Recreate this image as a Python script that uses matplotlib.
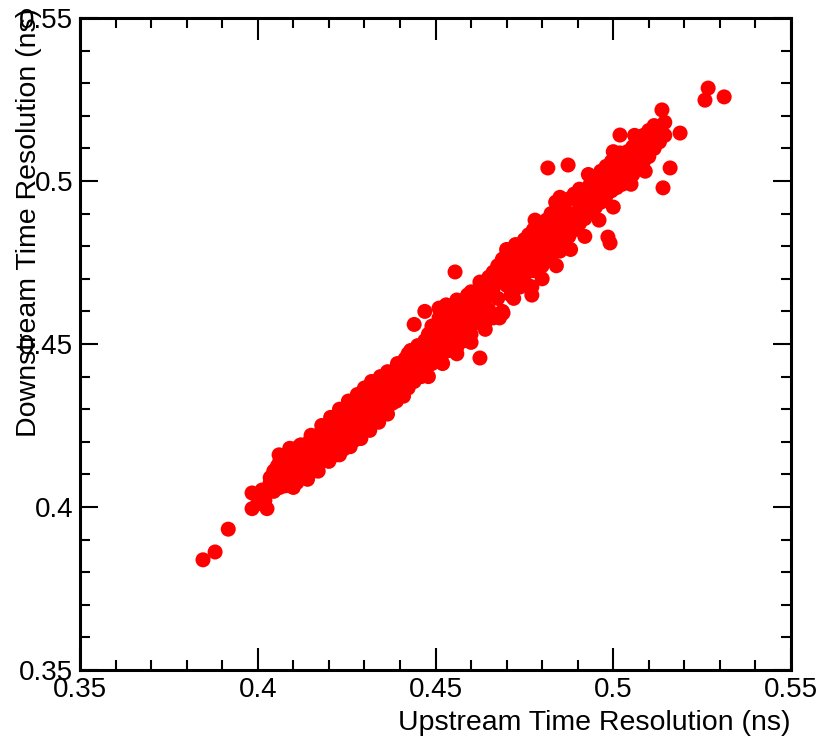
import matplotlib
matplotlib.use('Agg')
import matplotlib.pyplot as plt
from matplotlib.ticker import MultipleLocator

plt.rcParams['font.family'] = ['Liberation Sans', 'DejaVu Sans']

# upstream resolution -> downstream resolutions (ns)
core = {
    0.4035: [0.4090, 0.4060, 0.4075], 0.4045: [0.4110, 0.4048, 0.4085],
    0.4055: [0.4125, 0.4070, 0.4098], 0.4062: [0.4140, 0.4060, 0.4110],
    0.4070: [0.4082, 0.4118, 0.4150], 0.4078: [0.4065, 0.4100, 0.4135],
    0.4085: [0.4162, 0.4090, 0.4120], 0.4092: [0.4078, 0.4145, 0.4108],
    0.4100: [0.4170, 0.4125, 0.4095, 0.4060], 0.4108: [0.4140, 0.4112, 0.4180],
    0.4115: [0.4085, 0.4155, 0.4130], 0.4122: [0.4190, 0.4105, 0.4145],
    0.4130: [0.4120, 0.4165, 0.4095], 0.4138: [0.4178, 0.4140, 0.4110],
    0.4145: [0.4200, 0.4155, 0.4125], 0.4152: [0.4135, 0.4185, 0.4108],
    0.4160: [0.4168, 0.4210, 0.4145], 0.4168: [0.4130, 0.4190, 0.4160],
    0.4175: [0.4225, 0.4172, 0.4148], 0.4182: [0.4140, 0.4200, 0.4185],
    0.4190: [0.4232, 0.4165, 0.4195], 0.4198: [0.4150, 0.4215, 0.4180],
    0.4205: [0.4245, 0.4190, 0.4165], 0.4212: [0.4225, 0.4175, 0.4205],
    0.4220: [0.4260, 0.4198, 0.4160], 0.4228: [0.4235, 0.4185, 0.4212],
    0.4235: [0.4270, 0.4220, 0.4195], 0.4242: [0.4178, 0.4248, 0.4230],
    0.4250: [0.4285, 0.4210, 0.4240], 0.4258: [0.4195, 0.4262, 0.4232],
    0.4265: [0.4300, 0.4245, 0.4218], 0.4272: [0.4205, 0.4275, 0.4255],
    0.4280: [0.4310, 0.4238, 0.4268], 0.4288: [0.4225, 0.4290, 0.4262],
    0.4295: [0.4330, 0.4250, 0.4280], 0.4303: [0.4240, 0.4305, 0.4272],
    0.4310: [0.4345, 0.4265, 0.4295], 0.4318: [0.4255, 0.4322, 0.4288],
    0.4325: [0.4360, 0.4280, 0.4310], 0.4333: [0.4300, 0.4340, 0.4268],
    0.4340: [0.4375, 0.4318, 0.4290], 0.4348: [0.4285, 0.4355, 0.4330],
    0.4355: [0.4385, 0.4312, 0.4342], 0.4363: [0.4300, 0.4368, 0.4335],
    0.4370: [0.4398, 0.4325, 0.4355], 0.4378: [0.4318, 0.4380, 0.4410],
    0.4385: [0.4345, 0.4420, 0.4368], 0.4393: [0.4335, 0.4400, 0.4440],
    0.4400: [0.4360, 0.4425, 0.4385], 0.4408: [0.4350, 0.4410, 0.4445],
    0.4415: [0.4380, 0.4455, 0.4420], 0.4423: [0.4365, 0.4430, 0.4470],
    0.4430: [0.4395, 0.4448, 0.4480], 0.4440: [0.4385, 0.4460, 0.4420],
}

middle = {
    0.4450: [0.4410, 0.4495, 0.4455], 0.4460: [0.4400, 0.4470, 0.4440],
    0.4470: [0.4510, 0.4450, 0.4425], 0.4480: [0.4465, 0.4530, 0.4490],
    0.4490: [0.4440, 0.4500, 0.4555], 0.4500: [0.4478, 0.4540, 0.4455],
    0.4510: [0.4520, 0.4580, 0.4490], 0.4520: [0.4470, 0.4550, 0.4600],
    0.4530: [0.4505, 0.4570, 0.4620], 0.4540: [0.4480, 0.4540, 0.4595],
    0.4550: [0.4560, 0.4610, 0.4515], 0.4560: [0.4490, 0.4580, 0.4635],
    0.4570: [0.4530, 0.4600, 0.4555], 0.4580: [0.4620, 0.4510, 0.4570],
    0.4590: [0.4650, 0.4545, 0.4600], 0.4600: [0.4585, 0.4625, 0.4530],
    0.4612: [0.4660, 0.4565, 0.4610], 0.4625: [0.4640, 0.4590, 0.4690],
    0.4638: [0.4555, 0.4620, 0.4675], 0.4650: [0.4705, 0.4605, 0.4650],
    0.4662: [0.4580, 0.4670, 0.4720], 0.4675: [0.4640, 0.4740, 0.4690],
    0.4688: [0.4760, 0.4600, 0.4705], 0.4700: [0.4680, 0.4725, 0.4775],
    0.4712: [0.4790, 0.4650, 0.4740], 0.4725: [0.4700, 0.4760, 0.4805],
    0.4738: [0.4675, 0.4730, 0.4780], 0.4750: [0.4820, 0.4710, 0.4760],
    0.4762: [0.4740, 0.4800, 0.4835], 0.4775: [0.4725, 0.4780, 0.4850],
    0.4788: [0.4760, 0.4815, 0.4868], 0.4800: [0.4740, 0.4795, 0.4840],
}

upper = {
    0.4812: [0.4880, 0.4775, 0.4825], 0.4825: [0.4760, 0.4850, 0.4900],
    0.4838: [0.4800, 0.4870, 0.4935], 0.4850: [0.4830, 0.4890, 0.4785],
    0.4862: [0.4920, 0.4850, 0.4810], 0.4875: [0.4870, 0.4945, 0.4830],
    0.4890: [0.4900, 0.4850, 0.4960], 0.4905: [0.4930, 0.4870, 0.4975],
    0.4920: [0.4885, 0.4950, 0.4910], 0.4935: [0.4990, 0.4905, 0.4950],
    0.4950: [0.4920, 0.4975, 0.5010], 0.4965: [0.4950, 0.5030, 0.4935],
    0.4980: [0.4990, 0.4955, 0.5045], 0.4995: [0.4970, 0.5020, 0.5060],
    0.5010: [0.4980, 0.5040, 0.5075], 0.5025: [0.5010, 0.5060, 0.4990],
    0.5040: [0.5090, 0.5030, 0.5000], 0.5055: [0.5050, 0.5105, 0.5020],
    0.5070: [0.5070, 0.5120, 0.5040], 0.5085: [0.5140, 0.5090, 0.5060],
    0.5100: [0.5105, 0.5155, 0.5075], 0.5115: [0.5130, 0.5170, 0.5100],
    0.5130: [0.5150, 0.5120], 0.5145: [0.5180, 0.5140],
}

# points on the outer rim of the band
rim = [
    (0.4060, 0.4160), (0.4090, 0.4180), (0.4120, 0.4190), (0.4150, 0.4220),
    (0.4180, 0.4250), (0.4205, 0.4275), (0.4230, 0.4300), (0.4255, 0.4325),
    (0.4280, 0.4345), (0.4300, 0.4365), (0.4320, 0.4385), (0.4345, 0.4400),
    (0.4365, 0.4415), (0.4110, 0.4075), (0.4140, 0.4085), (0.4170, 0.4110),
    (0.4200, 0.4140), (0.4230, 0.4160), (0.4260, 0.4185), (0.4290, 0.4210),
    (0.4315, 0.4235), (0.4340, 0.4260), (0.4365, 0.4285), (0.4390, 0.4325),
    (0.4410, 0.4340), (0.4440, 0.4560), (0.4470, 0.4600),
    (0.4480, 0.4400), (0.4520, 0.4440), (0.4560, 0.4470), (0.4600, 0.4505),
    (0.4640, 0.4545), (0.4680, 0.4580), (0.4720, 0.4640), (0.4760, 0.4680),
    (0.4800, 0.4700), (0.4840, 0.4740), (0.4880, 0.4790), (0.4920, 0.4830),
    (0.4960, 0.4880), (0.5000, 0.4920), (0.5050, 0.4990), (0.5090, 0.5030),
    (0.4510, 0.4610), (0.4600, 0.4660), (0.4700, 0.4790), (0.4780, 0.4880),
    (0.4850, 0.4950), (0.4930, 0.5020), (0.5000, 0.5090), (0.5060, 0.5140),
]

# isolated points away from the band
stragglers = [
    (0.3846, 0.3838), (0.3880, 0.3862), (0.3917, 0.3932),
    (0.3984, 0.4043), (0.3984, 0.3995), (0.4026, 0.3995),
    (0.4012, 0.4052), (0.4020, 0.4020), (0.4000, 0.4010),
    (0.4555, 0.4721), (0.4625, 0.4457), (0.4690, 0.4595),
    (0.4771, 0.4675), (0.4771, 0.4650), (0.4816, 0.5040),
    (0.4873, 0.5049), (0.4985, 0.4828), (0.4991, 0.4810),
    (0.5019, 0.5141), (0.5019, 0.5086), (0.5137, 0.5218),
    (0.5160, 0.5040), (0.5140, 0.4979), (0.5188, 0.5147),
    (0.5267, 0.5285), (0.5258, 0.5248), (0.5312, 0.5258),
]

up = []
down = []
for group in (core, middle, upper):
    for xv, ys in group.items():
        for yv in ys:
            up.append(xv)
            down.append(yv)
for xv, yv in rim + stragglers:
    up.append(xv)
    down.append(yv)

fig = plt.figure(figsize=(8.19, 7.46), dpi=100)
ax = fig.add_axes([80 / 819, 1 - 670 / 746, 711 / 819, 652 / 746])

ax.scatter(up, down, s=117, c='#ff0000', edgecolors='none', zorder=3)

ax.set_xlim(0.35, 0.55)
ax.set_ylim(0.35, 0.55)
ax.xaxis.set_major_locator(MultipleLocator(0.05))
ax.xaxis.set_minor_locator(MultipleLocator(0.01))
ax.yaxis.set_major_locator(MultipleLocator(0.05))
ax.yaxis.set_minor_locator(MultipleLocator(0.01))
fmt = plt.FuncFormatter(lambda v, p: ('%.2f' % v).rstrip('0'))
ax.xaxis.set_major_formatter(fmt)
ax.yaxis.set_major_formatter(fmt)

for sp in ax.spines.values():
    sp.set_linewidth(2.2)

ax.tick_params(axis='both', which='both', direction='in', top=True, right=True,
               width=1.5, labelsize=20)
ax.tick_params(axis='x', which='major', length=15.5, pad=5)
ax.tick_params(axis='x', which='minor', length=7)
ax.tick_params(axis='y', which='major', length=13, pad=5)
ax.tick_params(axis='y', which='minor', length=7)

ax.set_xlabel('Upstream Time Resolution (ns)', fontsize=20.5, loc='right')
ax.xaxis.set_label_coords(1.0, -0.062)
ax.set_ylabel('Downstream Time Resolution (ns)', fontsize=20.5, loc='top')
ax.yaxis.set_label_coords(-0.053, 1.015)

fig.text(319 / 819, -0.004, '\u25b2', fontsize=7, ha='center', va='center')

fig.savefig('out.png', dpi=100)
